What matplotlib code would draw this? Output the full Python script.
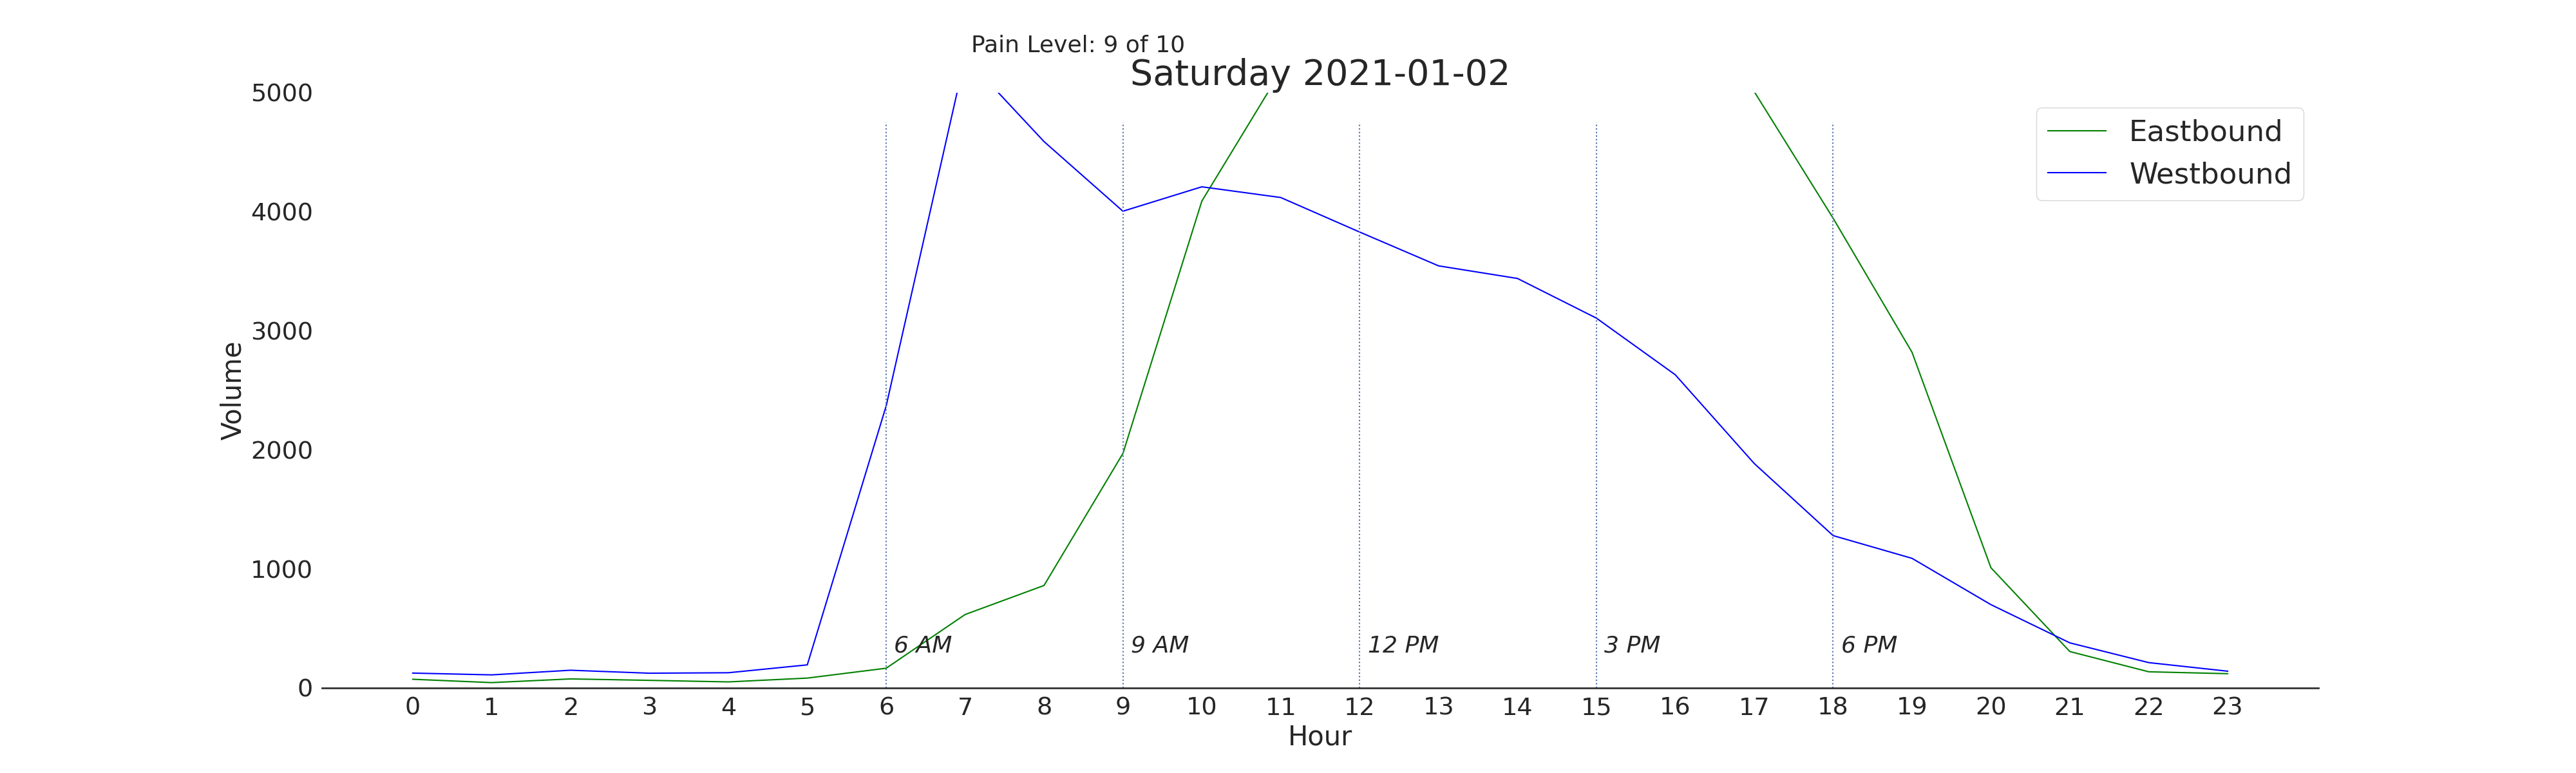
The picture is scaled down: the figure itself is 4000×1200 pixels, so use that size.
import numpy as np
import matplotlib
matplotlib.use('Agg')
import matplotlib.pyplot as plt

# ---------------------------------------------------------
# Data (hourly volumes)
# ---------------------------------------------------------
hours = list(range(24))
eastbound = [73, 45, 76, 64, 51, 83, 166, 617, 861, 1970, 4090, 5180,
             5500, 5700, 5800, 5750, 5600, 5010, 3946, 2820, 1010, 306, 136, 120]
westbound = [125, 110, 149, 124, 128, 194, 2370, 5300, 4590, 4005, 4210, 4120,
             3830, 3546, 3440, 3107, 2631, 1886, 1280, 1089, 700, 379, 213, 141]
marker_hours = [6, 9, 12, 15, 18]
marker_labels = ['6 AM', '9 AM', '12 PM', '3 PM', '6 PM']
title = 'Saturday 2021-01-02'
pain_text = 'Pain Level: 9 of 10'

# ---------------------------------------------------------
# Style
# ---------------------------------------------------------
text_color = '#262626'
plt.rcParams['text.color'] = text_color
plt.rcParams['axes.labelcolor'] = text_color
plt.rcParams['xtick.color'] = text_color
plt.rcParams['ytick.color'] = text_color

fig, ax = plt.subplots(figsize=(40, 12), dpi=100)

ax.plot(hours, eastbound, color='green', linewidth=1.5, label='Eastbound')
ax.plot(hours, westbound, color='blue', linewidth=1.5, label='Westbound')

for h, lab in zip(marker_hours, marker_labels):
    ax.axvline(h, ymax=0.95, color='#4c72b0', linestyle=':', linewidth=1.5)
    ax.text(h + 0.1, 300, lab, fontsize=26, style='italic')

ax.set_ylim(0, 5000)
ax.set_xticks(hours)
ax.set_yticks(range(0, 5001, 1000))
ax.tick_params(axis='both', length=0, pad=10, labelsize=27.5)

ax.set_xlabel('Hour', fontsize=30)
ax.set_ylabel('Volume', fontsize=30)
ax.set_title(title, fontsize=40, pad=4)
ax.text(7.08, 5345, pain_text, fontsize=26)

for side in ['top', 'right', 'left']:
    ax.spines[side].set_visible(False)
ax.spines['bottom'].set_color('#333333')
ax.spines['bottom'].set_linewidth(2)

ax.legend(loc='upper right', fontsize=32.5, facecolor='white', edgecolor='#cccccc')

fig.savefig('out.png', dpi=100)
